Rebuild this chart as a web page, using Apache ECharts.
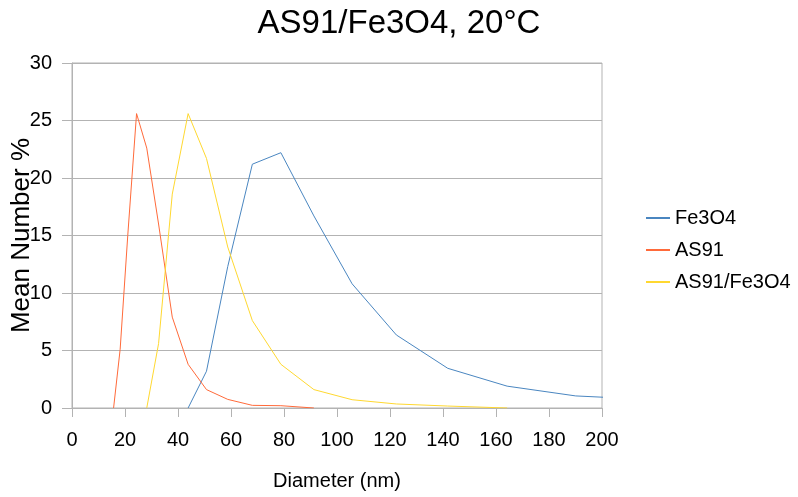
<!DOCTYPE html>
<html>
<head>
<meta charset="utf-8">
<script src="https://cdn.jsdelivr.net/npm/echarts@6/dist/echarts.min.js"></script>
<style>html,body{margin:0;padding:0;background:#fff}#c{width:798px;height:497px}</style>
</head>
<body>
<div id="c"></div>
<script>
var titleText = 'AS91/Fe3O4, 20°C';
var xName = 'Diameter (nm)';
var yName = 'Mean Number %';
var seriesNames = ['Fe3O4', 'AS91', 'AS91/Fe3O4'];
var sizes = [15.69, 18.17, 21.04, 24.36, 28.21, 32.67, 37.84, 43.82, 50.75, 58.77, 68.06, 78.82, 91.28, 105.7, 122.4, 141.8, 164.2, 190.1, 220.2];
var fe3o4 = [null, null, null, null, null, null, null, 0, 3.2, 12.3, 21.2, 22.2, 16.7, 10.8, 6.35, 3.45, 1.9, 1.05, 0.72];
var as91 = [0, 5.1, 15.0, 25.6, 22.6, 16.0, 7.9, 3.8, 1.6, 0.75, 0.23, 0.2, 0, null, null, null, null, null, null];
var mix = [null, null, null, null, 0, 5.6, 18.6, 25.6, 21.7, 14.0, 7.6, 3.8, 1.6, 0.72, 0.35, 0.17, 0, null, null];
var colors = ['#4a86c0', '#ff6a3a', '#ffd830'];

function pairs(vals) {
  return sizes.map(function (s, i) { return [s, vals[i]]; });
}
var chart = echarts.init(document.getElementById('c'));
var font = 'Liberation Sans, Arial, sans-serif';
chart.setOption({
  animation: false,
  title: {
    text: titleText, left: 'center', top: 2,
    textStyle: { fontFamily: font, fontSize: 33, fontWeight: 'normal', color: '#000' }
  },
  legend: {
    orient: 'vertical', left: 641, top: 203, itemGap: 12,
    itemWidth: 24, itemHeight: 2, icon: 'rect',
    textStyle: { fontFamily: font, fontSize: 20, color: '#000' },
    data: seriesNames
  },
  grid: {
    left: 72, right: 196, top: 63, bottom: 89,
    containLabel: false, outerBoundsMode: 'none',
    show: true, borderColor: '#b3b3b3', borderWidth: 1
  },
  xAxis: {
    type: 'value', min: 0, max: 200, interval: 20,
    name: xName, nameLocation: 'middle', nameGap: 63, nameMoveOverlap: false,
    nameTextStyle: { fontFamily: font, fontSize: 20, color: '#000' },
    axisLine: { show: true, lineStyle: { color: '#b3b3b3' } },
    axisTick: { show: true, length: 9, lineStyle: { color: '#b3b3b3' } },
    axisLabel: { margin: 22, fontFamily: font, fontSize: 20, color: '#000' },
    splitLine: { show: false }
  },
  yAxis: {
    type: 'value', min: 0, max: 30, interval: 5,
    name: yName, nameLocation: 'middle', nameGap: 37, nameMoveOverlap: false,
    nameTextStyle: { fontFamily: font, fontSize: 26, color: '#000' },
    axisLine: { show: true, lineStyle: { color: '#b3b3b3' } },
    axisTick: { show: true, length: 10, lineStyle: { color: '#b3b3b3' } },
    axisLabel: { margin: 20, fontFamily: font, fontSize: 20, color: '#000' },
    splitLine: { show: true, lineStyle: { color: '#b3b3b3' } }
  },
  series: [
    { name: seriesNames[0], type: 'line', data: pairs(fe3o4), showSymbol: false,
      lineStyle: { width: 1, color: colors[0] }, itemStyle: { color: colors[0] } },
    { name: seriesNames[1], type: 'line', data: pairs(as91), showSymbol: false,
      lineStyle: { width: 1, color: colors[1] }, itemStyle: { color: colors[1] } },
    { name: seriesNames[2], type: 'line', data: pairs(mix), showSymbol: false,
      lineStyle: { width: 1, color: colors[2] }, itemStyle: { color: colors[2] } }
  ]
});
</script>
</body>
</html>
